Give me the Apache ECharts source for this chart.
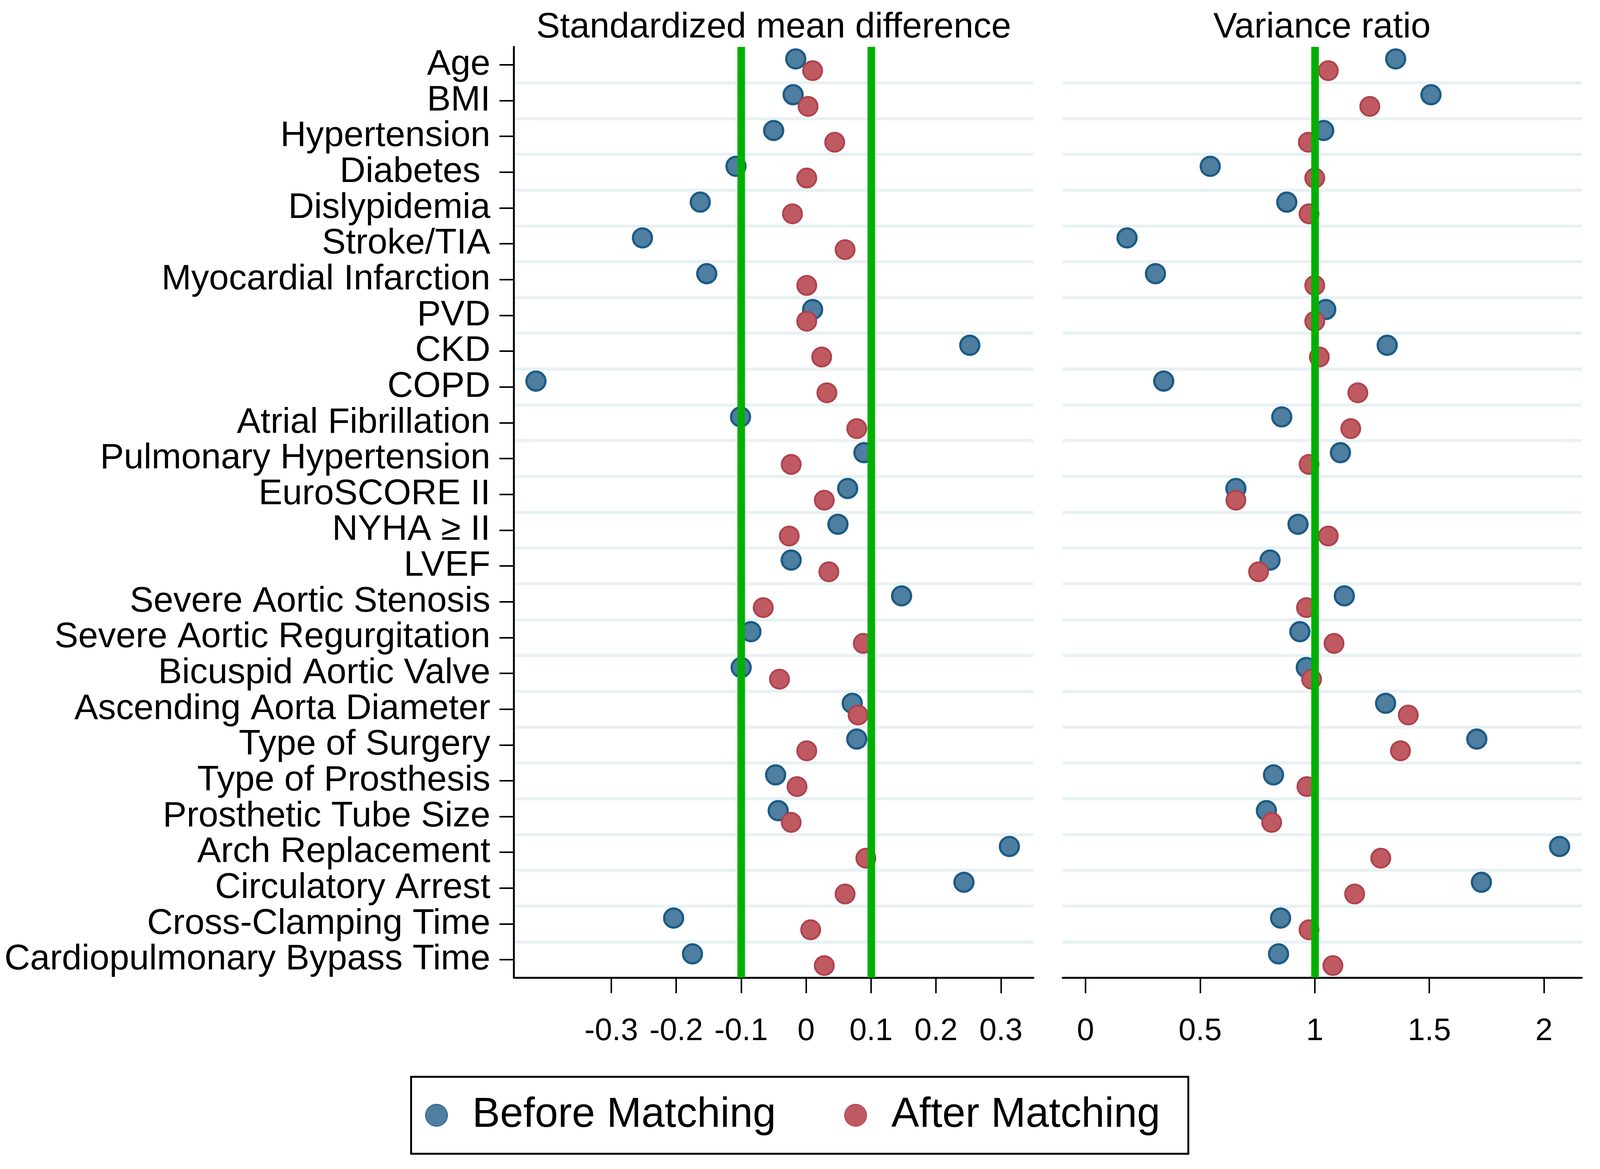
<!DOCTYPE html>
<html>
<head>
<meta charset="utf-8">
<script src="https://cdn.jsdelivr.net/npm/echarts@6/dist/echarts.min.js"></script>
<style>html,body{margin:0;padding:0;background:#fff;overflow:hidden}#c{width:100vw;height:100vh}</style>
</head>
<body>
<div id="c"></div>
<script>
const categories = ["Age","BMI","Hypertension","Diabetes ","Dislypidemia","Stroke/TIA","Myocardial Infarction","PVD","CKD","COPD","Atrial Fibrillation","Pulmonary Hypertension","EuroSCORE II","NYHA \u2265 II","LVEF","Severe Aortic Stenosis","Severe Aortic Regurgitation","Bicuspid Aortic Valve","Ascending Aorta Diameter","Type of Surgery","Type of Prosthesis","Prosthetic Tube Size","Arch Replacement","Circulatory Arrest","Cross-Clamping Time","Cardiopulmonary Bypass Time"];
const smdBefore = [-0.016,-0.020,-0.050,-0.108,-0.163,-0.252,-0.153,0.010,0.252,-0.416,-0.101,0.089,0.064,0.049,-0.023,0.147,-0.085,-0.100,0.071,0.078,-0.047,-0.043,0.313,0.243,-0.204,-0.175];
const smdAfter = [0.010,0.003,0.044,0.001,-0.021,0.060,0.001,0.001,0.024,0.032,0.078,-0.023,0.028,-0.026,0.035,-0.066,0.088,-0.041,0.080,0.001,-0.014,-0.023,0.092,0.060,0.007,0.028];
const vrBefore = [1.353,1.507,1.039,0.544,0.878,0.181,0.305,1.048,1.316,0.341,0.856,1.112,0.656,0.927,0.805,1.129,0.935,0.963,1.309,1.707,0.820,0.789,2.068,1.727,0.851,0.842];
const vrAfter = [1.059,1.240,0.972,1.000,0.975,null,1.000,1.000,1.020,1.188,1.157,0.975,0.656,1.059,0.755,0.964,1.084,0.986,1.408,1.374,0.966,0.812,1.288,1.174,0.975,1.079];
const smdTicks = [-0.3,-0.2,-0.1,0,0.1,0.2,0.3];
const vrTicks = [0,0.5,1,1.5,2];
const smdRefLines = [-0.1,0.1];
const vrRefLines = [1];
const panelTitles = ["Standardized mean difference","Variance ratio"];
const seriesNames = ["Before Matching","After Matching"];

const FONT = "Liberation Sans";
const el = document.getElementById('c');
const SX = window.innerWidth / 4219;
const SY = window.innerHeight / 2993;
const S = Math.min(SX, SY);
const px = v => v * SX, py = v => v * SY, ps = v => v * S;

const chart = echarts.init(el, null, {renderer:'canvas'});

function pairs(vals){ return vals.map((v,i)=>[v==null?'-':v, categories[i]]); }

const blueStyle = {color:'#4e7ea0', borderColor:'#1b5b86', borderWidth:ps(6), opacity:1};
const redStyle = {color:'#bf5a62', borderColor:'#b0424c', borderWidth:ps(5), opacity:1};

function xAxisCfg(gi, min, max, ticks){
  return {
    type:'value', gridIndex:gi, min:min, max:max,
    axisLine:{show:true, onZero:false, lineStyle:{color:'#000', width:ps(5)}},
    axisTick:{show:true, length:py(40), lineStyle:{color:'#000', width:ps(4)}, customValues:ticks},
    axisLabel:{show:true, fontFamily:FONT, fontSize:ps(82), color:'#000', margin:py(98), customValues:ticks},
    splitLine:{show:false}
  };
}
function yAxisCfg(gi, showAxis){
  return {
    type:'category', gridIndex:gi, data:categories, inverse:true, boundaryGap:true,
    axisLine:{show:showAxis, onZero:false, lineStyle:{color:'#000', width:ps(5)}},
    axisTick:{show:showAxis, alignWithLabel:true, interval:0, length:px(38), lineStyle:{color:'#000', width:ps(4)}},
    axisLabel:{show:showAxis, interval:0, fontFamily:FONT, fontSize:ps(94), color:'#000', margin:px(62)},
    splitLine:{show:true, interval:0, showMinLine:false, showMaxLine:false, lineStyle:{color:'#e8f1f3', width:ps(8)}}
  };
}
function refSeries(xi, vals){
  return {
    type:'scatter', data:[], xAxisIndex:xi, yAxisIndex:xi, z:1, silent:true,
    markLine:{silent:true, symbol:['none','none'], animation:false, label:{show:false},
      lineStyle:{color:'#00b000', width:ps(20), type:'solid', opacity:1},
      emphasis:{disabled:true},
      data:vals.map(v=>({xAxis:v}))}
  };
}
function pts(name, xi, vals, style, off){
  return {
    name:name, type:'scatter', xAxisIndex:xi, yAxisIndex:xi, z:3,
    symbol:'circle', symbolSize:ps(50), symbolOffset:[0, py(off)],
    itemStyle:style, data:pairs(vals)
  };
}

chart.setOption({
  animation:false,
  backgroundColor:'#fff',
  textStyle:{fontFamily:FONT},
  title:[
    {text:panelTitles[0], left:px(2040), top:py(25), padding:0, textAlign:'center',
     textStyle:{fontFamily:FONT, fontSize:ps(94), fontWeight:'normal', color:'#000'}},
    {text:panelTitles[1], left:px(3486), top:py(25), padding:0, textAlign:'center',
     textStyle:{fontFamily:FONT, fontSize:ps(94), fontWeight:'normal', color:'#000'}}
  ],
  legend:{
    data:seriesNames, left:px(1084), top:py(2757), orient:'horizontal',
    icon:'circle', itemWidth:ps(58), itemHeight:ps(58), itemGap:px(180),
    padding:[py(45),px(74),py(45),px(37)], borderColor:'#000', borderWidth:ps(5), backgroundColor:'#fff',
    textStyle:{fontFamily:FONT, fontSize:ps(110), color:'#000', padding:[0,0,0,px(60)]}
  },
  grid:[
    {left:px(1355), top:py(120), width:px(1370), height:py(2383), containLabel:false},
    {left:px(2802), top:py(120), width:px(1369), height:py(2383), containLabel:false}
  ],
  xAxis:[xAxisCfg(0,-0.45,0.35,smdTicks), xAxisCfg(1,-0.1,2.165,vrTicks)],
  yAxis:[yAxisCfg(0,true), yAxisCfg(1,false)],
  series:[
    refSeries(0, smdRefLines),
    refSeries(1, vrRefLines),
    pts(seriesNames[0],0,smdBefore,blueStyle,-15),
    pts(seriesNames[1],0,smdAfter,redStyle,15),
    pts(seriesNames[0],1,vrBefore,blueStyle,-15),
    pts(seriesNames[1],1,vrAfter,redStyle,15)
  ]
});
window.addEventListener('resize', ()=>chart.resize());
</script>
</body>
</html>
